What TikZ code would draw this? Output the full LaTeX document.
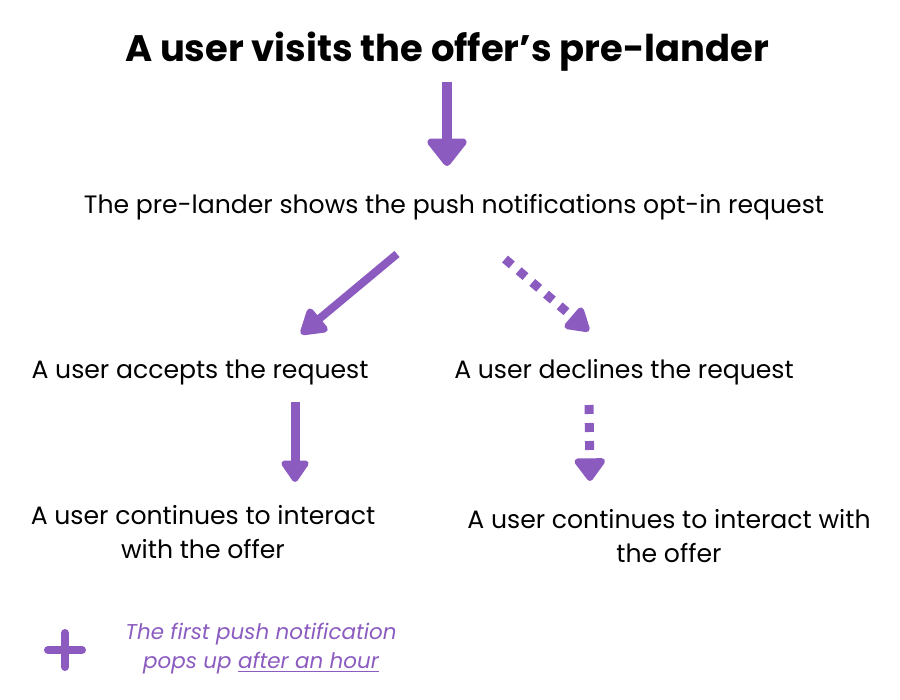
\documentclass[tikz,border=0pt]{standalone}
\usepackage{fontspec}
\setmainfont{Poppins}
\usepackage{tikz}
\usetikzlibrary{arrows.meta,positioning,calc}
\definecolor{pushpurple}{RGB}{139,91,192}

\begin{document}
\begin{tikzpicture}[x=0.02cm,y=-0.02cm,
    txt/.style={font=\fontsize{14.3}{19.8}\selectfont, align=center, inner sep=0pt},
    flow/.style={pushpurple, line width=#1},
    dots/.style={pushpurple, line width=1.8mm, dash pattern=on 1.8mm off 1.8mm}]
    \useasboundingbox (0,0) rectangle (900,700);
    % Texts
    \node[font=\fontsize{21}{25}\selectfont\bfseries, inner sep=0pt] (visit) at (447,52) {A user visits the offer’s pre-lander};
    \node[txt] (prelander) at (454,207) {The pre-lander shows the push notifications opt-in request};
    \node[txt] (accept) at (200,372) {A user accepts the request};
    \node[txt] (decline) at (624,372) {A user declines the request};
    \node[txt] (contleft) at (203,532) {A user continues to interact\\with the offer};
    \node[txt] (contright) at (669,536) {A user continues to interact with\\the offer};
    % Arrow ends
    \coordinate (a1) at (447,82);   \coordinate (b1) at (447,166);
    \coordinate (a2) at (397,254);  \coordinate (b2) at (301,334);
    \coordinate (a3) at (505,259);  \coordinate (b3) at (589,331);
    \coordinate (a4) at (295,402);  \coordinate (b4) at (295,482);
    \coordinate (a5) at (589,405);  \coordinate (b5) at (590,481);
    % Arrows
    \draw[flow=2mm, -{Triangle[width=9mm,length=6mm,round]}] (a1) -- (b1);
    \draw[flow=1.6mm, -{Triangle[width=6.6mm,length=5.6mm,round]}] (a2) -- (b2);
    \draw[dots, -{Triangle[width=6mm,length=5.2mm,round]}] (a3) -- (b3);
    \draw[flow=1.8mm, -{Triangle[width=6.2mm,length=4.8mm,round]}] (a4) -- (b4);
    \draw[dots, -{Triangle[width=7mm,length=5mm,round]}] (a5) -- (b5);
    % Note
    \draw[pushpurple, line width=1.6mm, line cap=round] (48,650) -- (82,650) (65,633) -- (65,667);
    \node[txt, font=\fontsize{12.2}{16.5}\selectfont\itshape, text=pushpurple] (note) at (261,649) {The first push notification\\pops up \underline{after an hour}};
\end{tikzpicture}
\end{document}
